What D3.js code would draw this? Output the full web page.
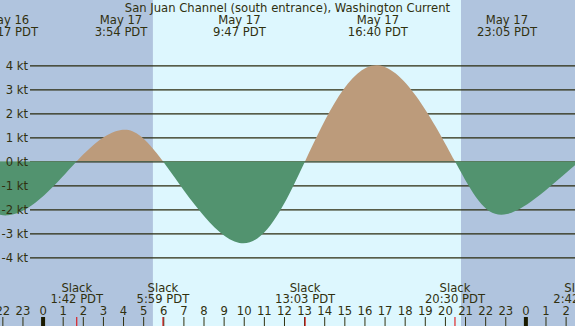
<!DOCTYPE html>
<html>
<head>
<meta charset="utf-8">
<script src="https://cdn.jsdelivr.net/npm/d3@7"></script>
<style>
  body { margin: 0; background: #fff; }
  svg { display: block; font-family: "DejaVu Sans", sans-serif; }
  .lbl { fill: #30300f; font-size: 11.6px; }
</style>
</head>
<body>
<div id="chart"></div>
<script>
(function() {
  var width = 575, height = 326;

  // tidal current events (PDT), speeds in knots (+ flood, - ebb)
  var maxTimes = ["2024-05-16 22:17", "2024-05-17 03:54", "2024-05-17 09:47", "2024-05-17 16:40", "2024-05-17 23:05"];
  var maxSpeeds = [-2.25, 1.3, -3.4, 4.0, -2.2];
  var slackTimes = ["2024-05-17 01:42", "2024-05-17 05:59", "2024-05-17 13:03", "2024-05-17 20:30", "2024-05-18 02:42"];
  // events just outside the window, so the curve runs off the edges
  var edgeTimes = ["2024-05-16 18:45", "2024-05-18 05:40"];
  var edgeSpeeds = [0, 1.6];
  // sunrise / sunset
  var sunrise = "2024-05-17 05:29", sunset = "2024-05-17 20:48";
  var speedTicks = [-4, -3, -2, -1, 0, 1, 2, 3, 4];
  var title = "San Juan Channel (south entrance), Washington Current";

  var parse = d3.utcParse("%Y-%m-%d %H:%M");
  var fmtDay = d3.utcFormat("%b %-d"),
      fmtTime = d3.utcFormat("%-H:%M PDT");

  var points = [];
  maxTimes.forEach(function(t, i) { points.push({t: parse(t), v: maxSpeeds[i]}); });
  slackTimes.forEach(function(t) { points.push({t: parse(t), v: 0}); });
  edgeTimes.forEach(function(t, i) { points.push({t: parse(t), v: edgeSpeeds[i]}); });
  points.sort(function(a, b) { return a.t - b.t; });

  var x = d3.scaleUtc()
    .domain([parse("2024-05-16 21:53"), parse("2024-05-18 02:28")])
    .range([0, width]);

  var y = d3.scaleLinear().domain([-4, 4]).range([257.3, 65.3]);

  var svg = d3.select("#chart").append("svg")
    .attr("width", width)
    .attr("height", height);

  // night / day background
  svg.append("rect").attr("width", width).attr("height", height).attr("fill", "#b0c4de");
  svg.append("rect")
    .attr("x", x(parse(sunrise)))
    .attr("width", x(parse(sunset)) - x(parse(sunrise)))
    .attr("height", height)
    .attr("fill", "#ddf7fe");

  // grid lines (behind the fill)
  var grid = svg.append("g")
    .attr("transform", "translate(30,0)")
    .call(d3.axisLeft(y).tickValues(speedTicks).tickSize(-(width - 30)).tickFormat(""));
  grid.select(".domain").remove();
  grid.selectAll("line").attr("stroke", "#2a2a0c").attr("stroke-width", 1.2);

  var defs = svg.append("defs");
  defs.append("clipPath").attr("id", "above")
    .append("rect").attr("x", -50).attr("y", 0).attr("width", width + 100).attr("height", y(0));
  defs.append("clipPath").attr("id", "below")
    .append("rect").attr("x", -50).attr("y", y(0)).attr("width", width + 100).attr("height", height - y(0));

  var area = d3.area()
    .x(function(d) { return x(d.t); })
    .y0(y(0))
    .y1(function(d) { return y(d.v); })
    .curve(d3.curveNatural);

  svg.append("path").datum(points)
    .attr("d", area).attr("fill", "#bc9b7b").attr("clip-path", "url(#above)");
  svg.append("path").datum(points)
    .attr("d", area).attr("fill", "#52936f").attr("clip-path", "url(#below)");

  // speed labels on top
  var yLabels = svg.append("g")
    .attr("transform", "translate(30,0)")
    .call(d3.axisLeft(y).tickValues(speedTicks).tickSize(0).tickPadding(2)
      .tickFormat(function(d) { return d + " kt"; }));
  yLabels.select(".domain").remove();
  yLabels.selectAll("text").attr("fill", "#30300f").style("font-size", "11.6px").style("font-family", "DejaVu Sans");

  // title
  svg.append("text").attr("class", "lbl")
    .attr("x", width / 2).attr("y", 12)
    .attr("text-anchor", "middle")
    .text(title);

  // max current labels
  var maxG = svg.selectAll(".maxlbl")
    .data(maxTimes)
    .enter().append("text")
    .attr("class", "lbl")
    .attr("text-anchor", "middle")
    .attr("x", function(d) { return x(parse(d)); });
  maxG.append("tspan").attr("y", 24).text(function(d) { return fmtDay(parse(d)); });
  maxG.append("tspan").attr("y", 36)
    .attr("x", function(d) { return x(parse(d)); })
    .text(function(d) { return fmtTime(parse(d)); });

  // slack labels
  var slackG = svg.selectAll(".slacklbl")
    .data(slackTimes)
    .enter().append("text")
    .attr("class", "lbl")
    .attr("text-anchor", "middle")
    .attr("x", function(d) { return x(parse(d)); });
  slackG.append("tspan").attr("y", 292).text("Slack");
  slackG.append("tspan").attr("y", 303)
    .attr("x", function(d) { return x(parse(d)); })
    .text(function(d) { return fmtTime(parse(d)); });

  // hour axis
  var xAxis = svg.append("g")
    .attr("transform", "translate(0," + height + ")")
    .call(d3.axisTop(x).ticks(d3.utcHour.every(1)).tickSize(9).tickPadding(2)
      .tickFormat(d3.utcFormat("%-H")));
  xAxis.select(".domain").remove();
  xAxis.selectAll("text").attr("fill", "#30300f").style("font-size", "11.6px").style("font-family", "DejaVu Sans");
  xAxis.selectAll("line").attr("stroke", "#30300f");
  xAxis.selectAll(".tick").filter(function(d) { return d.getUTCHours() === 0; })
    .select("line").attr("stroke", "#1a1a00").attr("stroke-width", 4);

  // slack markers
  svg.selectAll(".slacktick")
    .data(slackTimes)
    .enter().append("line")
    .attr("x1", function(d) { return x(parse(d)); })
    .attr("x2", function(d) { return x(parse(d)); })
    .attr("y1", height - 9)
    .attr("y2", height)
    .attr("stroke", "#e00000");
})();
</script>
</body>
</html>
